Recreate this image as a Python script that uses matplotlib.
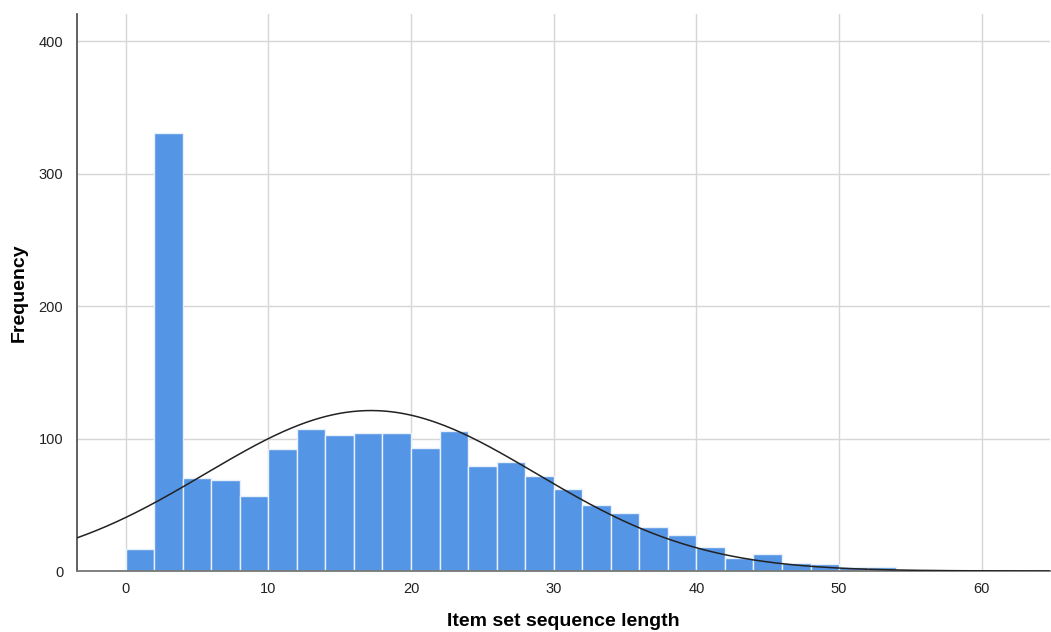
import numpy as np
import matplotlib
matplotlib.use("Agg")
import matplotlib.pyplot as plt

# histogram bins (width 2) and counts
bin_edges = list(range(0, 64, 2))
counts = [17, 331, 70, 69, 57, 92, 107, 103, 104, 104, 93, 106, 79, 82, 72,
          62, 50, 44, 33, 27, 18, 10, 13, 6, 5, 3, 3, 0, 1, 0, 1]

# fitted normal curve parameters
mean = 17.2
std_dev = 11.6
n_total = 1762
bin_width = 2

bar_color = "#5595e5"

fig = plt.figure(figsize=(10.51, 6.32), dpi=100)
ax = fig.add_axes([0.0733, 0.0965, 0.926, 0.882])

ax.bar(bin_edges[:len(counts)], counts, width=bin_width, align="edge",
       color=bar_color, edgecolor="#e8f0fb", linewidth=1.0, zorder=2)

xs = np.linspace(-3.4, 65, 600)
ys = n_total * bin_width / (std_dev * np.sqrt(2 * np.pi)) * np.exp(-0.5 * ((xs - mean) / std_dev) ** 2)
ax.plot(xs, ys, color="#222222", linewidth=1.1, zorder=3)

ax.set_xlim(-3.4, 64.8)
ax.set_ylim(0, 421)
ax.set_xticks(range(0, 70, 10))
ax.set_yticks(range(0, 500, 100))
ax.grid(True, color="#d6d6d6", linewidth=1.0, zorder=0)
ax.set_axisbelow(True)

for side in ["top", "right"]:
    ax.spines[side].set_visible(False)
ax.spines["left"].set_color("#555555")
ax.spines["left"].set_linewidth(1.3)
ax.spines["bottom"].set_color("#777777")
ax.spines["bottom"].set_linewidth(1.3)

ax.tick_params(length=0, labelsize=10.5, colors="#333333", pad=8)
ax.tick_params(axis="x", labelcolor="#222222")
ax.tick_params(axis="y", labelcolor="#222222", pad=10)

ax.set_ylabel("Frequency", fontsize=14, fontweight="bold", labelpad=8,
              family=["Liberation Sans", "DejaVu Sans"])
ax.set_xlabel("Item set sequence length", fontsize=14, fontweight="bold", labelpad=12,
              family=["Liberation Sans", "DejaVu Sans"])
for lbl in ax.get_xticklabels() + ax.get_yticklabels():
    lbl.set_family(["Liberation Sans", "DejaVu Sans"])

fig.savefig("out.png", dpi=100)
